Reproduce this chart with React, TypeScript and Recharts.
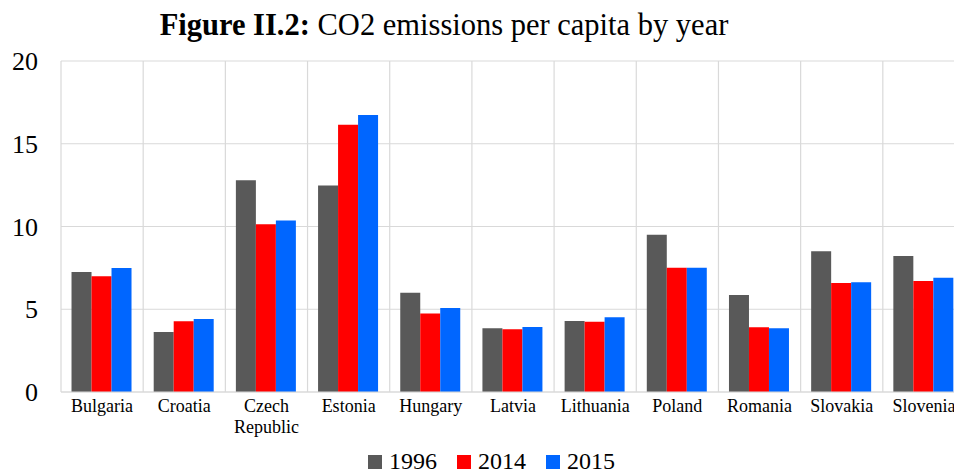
import * as React from "react";
import { BarChart, Bar, XAxis, YAxis, CartesianGrid, Legend } from "recharts";

const COUNTRIES = [
  "Bulgaria", "Croatia", "Czech Republic", "Estonia", "Hungary", "Latvia",
  "Lithuania", "Poland", "Romania", "Slovakia", "Slovenia",
];
const Y1996 = [7.25, 3.63, 12.8, 12.47, 6.0, 3.85, 4.29, 9.5, 5.86, 8.5, 8.22];
const Y2014 = [7.0, 4.27, 10.13, 16.15, 4.75, 3.79, 4.25, 7.51, 3.91, 6.59, 6.71];
const Y2015 = [7.5, 4.41, 10.37, 16.74, 5.08, 3.93, 4.51, 7.51, 3.85, 6.63, 6.91];
const Y_TICKS = [0, 5, 10, 15, 20];

const SERIES = [
  { key: "y1996", name: "1996", color: "#595959" },
  { key: "y2014", name: "2014", color: "#ff0000" },
  { key: "y2015", name: "2015", color: "#0066ff" },
];

const GRID = "#d9d9d9";
const FONT = "Liberation Serif, Times New Roman, serif";

const data = COUNTRIES.map((name, i) => ({
  name,
  y1996: Y1996[i],
  y2014: Y2014[i],
  y2015: Y2015[i],
}));

// category labels, long names wrap onto two lines
function CountryTick({ x, y, payload }: any) {
  const lines = String(payload.value).split(" ");
  return (
    <text x={x} y={y} textAnchor="middle" fontFamily={FONT} fontSize={18} fill="#000">
      {lines.map((l, i) => (
        <tspan key={i} x={x} dy={i === 0 ? 20 : 21}>
          {l}
        </tspan>
      ))}
    </text>
  );
}

function LegendContent() {
  return (
    <div style={{ display: "flex", alignItems: "center", fontFamily: FONT, fontSize: 24, lineHeight: "normal", color: "#000" }}>
      {SERIES.map((s) => (
        <div key={s.key} style={{ display: "flex", alignItems: "center", marginRight: 20 }}>
          <span style={{ display: "inline-block", width: 14, height: 14, background: s.color, marginRight: 7 }} />
          <span>{s.name}</span>
        </div>
      ))}
    </div>
  );
}

export default function App() {
  return (
    <div style={{ position: "absolute", left: 0, top: 0, width: 954, height: 476, overflow: "hidden", background: "#fff" }}>
      <div
        style={{
          position: "absolute", left: 0, top: 10, width: 888, textAlign: "center",
          fontFamily: FONT, fontSize: 30.5, lineHeight: 1, color: "#000",
        }}
      >
        <b>Figure II.2:</b> CO2 emissions per capita by year
      </div>
      <BarChart
        width={1000}
        height={476}
        data={data}
        margin={{ top: 61, right: 35, left: 0, bottom: 0 }}
        barCategoryGap="12.8%"
        barGap={0}
      >
        <CartesianGrid
          stroke={GRID}
          strokeWidth={1.2}
          verticalCoordinatesGenerator={({ offset }: any) =>
            COUNTRIES.map((_, i) => offset.left + (i * offset.width) / COUNTRIES.length).concat(offset.left + offset.width)
          }
        />
        <XAxis
          dataKey="name"
          height={84}
          interval={0}
          tickLine={false}
          tickSize={0}
          tickMargin={0}
          axisLine={{ stroke: GRID, strokeWidth: 1.2 }}
          tick={<CountryTick />}
        />
        <YAxis
          width={61}
          domain={[0, 20]}
          ticks={Y_TICKS}
          axisLine={false}
          tickLine={false}
          tickSize={0}
          tickMargin={23}
          tick={{ fontFamily: FONT, fontSize: 26, fill: "#000" }}
        />
        <Legend
          verticalAlign="middle"
          layout="horizontal"
          content={<LegendContent />}
          wrapperStyle={{ top: 448, left: 368, width: "auto" }}
        />
        {SERIES.map((s) => (
          <Bar key={s.key} dataKey={s.key} name={s.name} fill={s.color} isAnimationActive={false} />
        ))}
      </BarChart>
    </div>
  );
}
